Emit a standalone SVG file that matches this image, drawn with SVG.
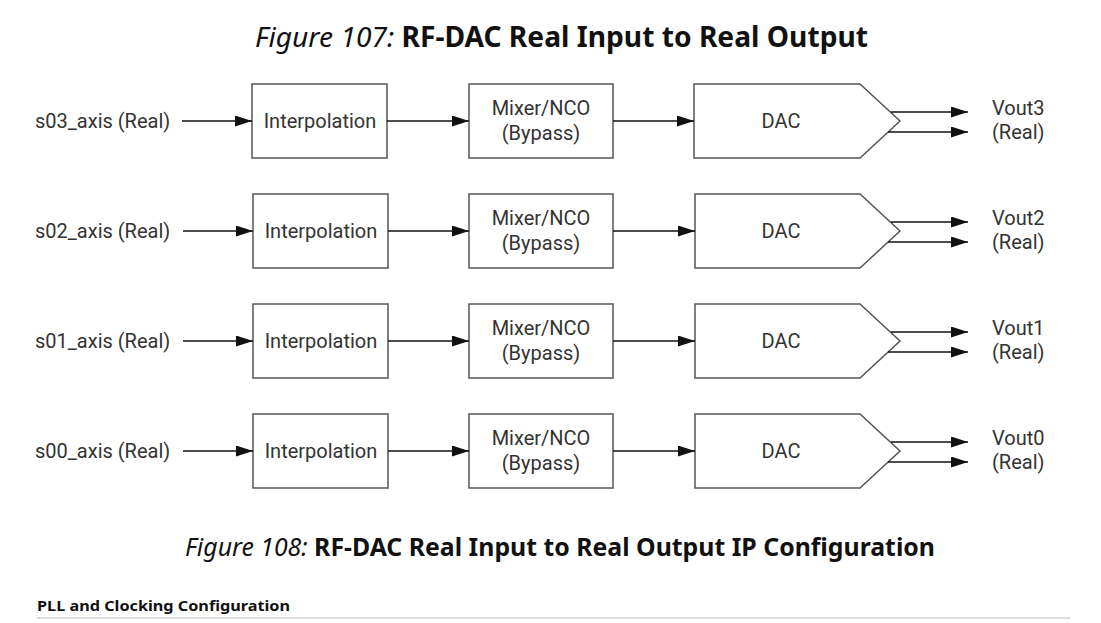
<svg xmlns="http://www.w3.org/2000/svg" width="1101" height="623" viewBox="0 0 1101 623">
<style>
.box{fill:#fff;stroke:#555;stroke-width:1.5}
.t{font-family:Roboto,"Liberation Sans",sans-serif;font-size:20px;fill:#333}
.c{text-anchor:middle}
.ln{stroke:#111;stroke-width:1.5;fill:none;marker-end:url(#ah)}
.ti{font-family:"Noto Sans","Open Sans",sans-serif;fill:#111}
</style>
<defs>
<marker id="ah" markerWidth="17" markerHeight="11" refX="17" refY="5.5" orient="auto" markerUnits="userSpaceOnUse">
<path d="M0,0 L17,5.5 L0,11 z" fill="#111"/>
</marker>
</defs>
<rect width="1101" height="623" fill="#fff"/>
<text class="ti" x="255" y="47" font-size="28" textLength="613" lengthAdjust="spacingAndGlyphs"><tspan font-style="italic">Figure 107:</tspan> <tspan font-weight="bold">RF-DAC Real Input to Real Output</tspan></text>

<g id="row3">
<text class="t" x="35" y="128">s03_axis (Real)</text>
<g id="interp3"><rect class="box" x="252" y="84" width="135" height="74"/><text class="t c" x="320" y="128">Interpolation</text></g>
<g id="mixer3"><rect class="box" x="469" y="84" width="144" height="74"/><text class="t c" x="541" y="115">Mixer/NCO</text><text class="t c" x="541" y="140">(Bypass)</text></g>
<g id="dac3"><path class="box" d="M694,84 H860 L900,121 L860,158 H694 Z"/><text class="t c" x="781" y="128">DAC</text></g>
<text class="t" x="992" y="115">Vout3</text><text class="t" x="992" y="139">(Real)</text>
</g>

<g id="row2">
<text class="t" x="35" y="238">s02_axis (Real)</text>
<g id="interp2"><rect class="box" x="253" y="194" width="135" height="74"/><text class="t c" x="321" y="238">Interpolation</text></g>
<g id="mixer2"><rect class="box" x="469" y="194" width="144" height="74"/><text class="t c" x="541" y="225">Mixer/NCO</text><text class="t c" x="541" y="250">(Bypass)</text></g>
<g id="dac2"><path class="box" d="M695,194 H860 L900,231 L860,268 H695 Z"/><text class="t c" x="781" y="238">DAC</text></g>
<text class="t" x="992" y="225">Vout2</text><text class="t" x="992" y="249">(Real)</text>
</g>

<g id="row1">
<text class="t" x="35" y="348">s01_axis (Real)</text>
<g id="interp1"><rect class="box" x="253" y="304" width="135" height="74"/><text class="t c" x="321" y="348">Interpolation</text></g>
<g id="mixer1"><rect class="box" x="469" y="304" width="144" height="74"/><text class="t c" x="541" y="335">Mixer/NCO</text><text class="t c" x="541" y="360">(Bypass)</text></g>
<g id="dac1"><path class="box" d="M695,304 H860 L900,341 L860,378 H695 Z"/><text class="t c" x="781" y="348">DAC</text></g>
<text class="t" x="992" y="335">Vout1</text><text class="t" x="992" y="359">(Real)</text>
</g>

<g id="row0">
<text class="t" x="35" y="458">s00_axis (Real)</text>
<g id="interp0"><rect class="box" x="253" y="414" width="135" height="74"/><text class="t c" x="321" y="458">Interpolation</text></g>
<g id="mixer0"><rect class="box" x="469" y="414" width="144" height="74"/><text class="t c" x="541" y="445">Mixer/NCO</text><text class="t c" x="541" y="470">(Bypass)</text></g>
<g id="dac0"><path class="box" d="M695,414 H860 L900,451 L860,488 H695 Z"/><text class="t c" x="781" y="458">DAC</text></g>
<text class="t" x="992" y="445">Vout0</text><text class="t" x="992" y="469">(Real)</text>
</g>

<g id="connectors">
<path class="ln" d="M182,121 H252"/><path class="ln" d="M387,121 H469"/><path class="ln" d="M613,121 H694"/>
<path class="ln" d="M891,112 H968"/><path class="ln" d="M888,132 H968"/>
<path class="ln" d="M183,231 H253"/><path class="ln" d="M388,231 H469"/><path class="ln" d="M613,231 H695"/>
<path class="ln" d="M891,222 H968"/><path class="ln" d="M888,242 H968"/>
<path class="ln" d="M183,341 H253"/><path class="ln" d="M388,341 H469"/><path class="ln" d="M613,341 H695"/>
<path class="ln" d="M891,332 H968"/><path class="ln" d="M888,352 H968"/>
<path class="ln" d="M183,451 H253"/><path class="ln" d="M388,451 H469"/><path class="ln" d="M613,451 H695"/>
<path class="ln" d="M891,442 H968"/><path class="ln" d="M888,462 H968"/>
</g>

<text class="ti" x="185" y="556" font-size="25" textLength="750" lengthAdjust="spacingAndGlyphs"><tspan font-style="italic">Figure 108:</tspan> <tspan font-weight="bold">RF-DAC Real Input to Real Output IP Configuration</tspan></text>
<text class="ti" x="37" y="611" font-size="14" font-weight="bold" fill="#222" textLength="253" lengthAdjust="spacingAndGlyphs">PLL and Clocking Configuration</text>
<line x1="37" y1="618" x2="1070" y2="618" stroke="#ddd" stroke-width="2"/>
</svg>
